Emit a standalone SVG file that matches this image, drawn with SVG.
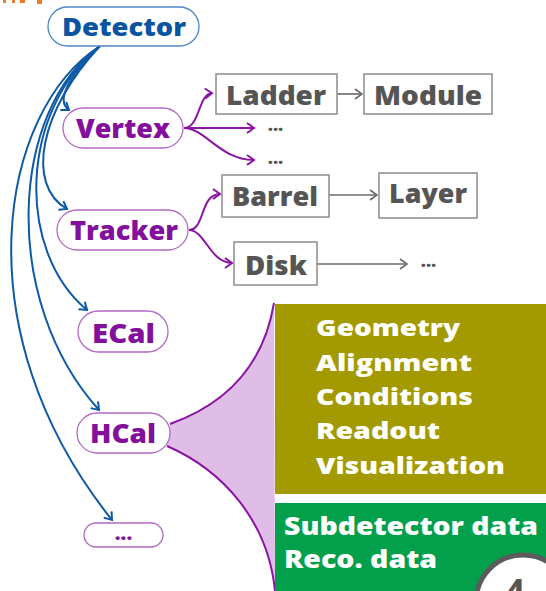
<svg xmlns="http://www.w3.org/2000/svg" width="546" height="591" viewBox="0 0 546 591">
<style>
.t{font-family:"Open Sans","DejaVu Sans",sans-serif;font-weight:800}
.blue{fill:#0b54a2}
.pur{fill:#82109c}
.gry{fill:#555555}
.wht{fill:#ffffff}
.pillB{fill:#ffffff;stroke:#4f86c6;stroke-width:1.3}
.pillP{fill:#ffffff;stroke:#b26ac6;stroke-width:1.3}
.box{fill:#ffffff;stroke:#8c8c8c;stroke-width:1.5}
.cb{fill:none;stroke:#0d59a6;stroke-width:2;marker-end:url(#ab)}
.cp{fill:none;stroke:#8a14a3;stroke-width:2;marker-end:url(#ap)}
.cg{fill:none;stroke:#6a6a6a;stroke-width:1.6;marker-end:url(#ag)}
</style>
<defs>
<marker id="ab" markerUnits="userSpaceOnUse" markerWidth="10" markerHeight="12" refX="7" refY="5" orient="auto" overflow="visible"><path d="M0,0 L7,5 L0,10" fill="none" stroke="#0d59a6" stroke-width="2"/></marker>
<marker id="ap" markerUnits="userSpaceOnUse" markerWidth="10" markerHeight="12" refX="7" refY="5" orient="auto" overflow="visible"><path d="M0,0 L7,5 L0,10" fill="none" stroke="#8a14a3" stroke-width="2"/></marker>
<marker id="ag" markerUnits="userSpaceOnUse" markerWidth="10" markerHeight="12" refX="7" refY="5" orient="auto" overflow="visible"><path d="M0,0 L7,5 L0,10" fill="none" stroke="#6a6a6a" stroke-width="1.6"/></marker>
</defs>
<rect width="546" height="591" fill="#ffffff"/>
<g id="title-fragment" fill="#ee7a2a">
<rect x="3" y="0" width="3" height="3"/><rect x="12" y="0" width="3" height="3"/><rect x="20" y="0" width="5" height="3"/><rect x="37" y="0" width="5" height="4"/>
</g>
<g id="funnel">
<path d="M170,424 C215,408 262,375 274,303 L275,591 C268,520 222,470 167,446 Z" fill="#e0bde6"/>
<path d="M170,424 C215,408 262,375 274,303" fill="none" stroke="#8a14a3" stroke-width="2"/>
<path d="M167,446 C222,470 268,520 275,591" fill="none" stroke="#8a14a3" stroke-width="2"/>
</g>
<g id="info-box">
<rect x="275" y="304" width="271" height="190" fill="#a29a00"/>
<text class="t wht" font-size="23" x="316" y="336" textLength="144" lengthAdjust="spacingAndGlyphs">Geometry</text>
<text class="t wht" font-size="23" x="316" y="371" textLength="156" lengthAdjust="spacingAndGlyphs">Alignment</text>
<text class="t wht" font-size="23" x="316" y="405" textLength="157" lengthAdjust="spacingAndGlyphs">Conditions</text>
<text class="t wht" font-size="23" x="316" y="439" textLength="124" lengthAdjust="spacingAndGlyphs">Readout</text>
<text class="t wht" font-size="23" x="316" y="474" textLength="189" lengthAdjust="spacingAndGlyphs">Visualization</text>
</g>
<g id="data-box">
<rect x="275" y="503" width="271" height="88" fill="#03a04b"/>
<text class="t wht" font-size="24" x="284" y="535" textLength="254" lengthAdjust="spacingAndGlyphs">Subdetector data</text>
<text class="t wht" font-size="24" x="284" y="568" textLength="153" lengthAdjust="spacingAndGlyphs">Reco. data</text>
</g>
<g id="page-number">
<circle cx="523" cy="602" r="47" fill="#ffffff" stroke="#5b5b5b" stroke-width="5"/>
<text class="t gry" font-size="28" x="516" y="599" text-anchor="middle">4</text>
</g>
<g id="connectors">
<path class="cb" d="M100,46 C70,75 55,100 69,110"/>
<path class="cb" d="M100,46 C40,110 25,185 67,209"/>
<path class="cb" d="M100,46 C20,110 15,250 87,310"/>
<path class="cb" d="M100,46 C10,110 0,300 99,410"/>
<path class="cb" d="M100,46 C0,110 -40,330 112,520"/>
<path class="cp" d="M184,128 C200,128 198,94 212,93"/>
<path class="cp" d="M184,128 L254,128"/>
<path class="cp" d="M184,128 C205,128 220,160 254,160"/>
<path class="cp" d="M189,230 C205,230 200,194 220,194"/>
<path class="cp" d="M189,230 C205,230 210,263 232,263"/>
<path class="cg" d="M337,94 L362,94"/>
<path class="cg" d="M329,195 L377,195"/>
<path class="cg" d="M317,264 L407,264"/>
</g>
<g id="detector">
<rect class="pillB" x="48" y="7" width="151" height="39" rx="19.5"/>
<text class="t blue" font-size="24" x="62" y="36" textLength="124" lengthAdjust="spacingAndGlyphs">Detector</text>
</g>
<g id="vertex">
<rect class="pillP" x="63" y="108" width="120" height="40" rx="20"/>
<text class="t pur" font-size="27" x="76" y="138" textLength="94" lengthAdjust="spacingAndGlyphs">Vertex</text>
</g>
<g id="tracker">
<rect class="pillP" x="57" y="210" width="131" height="40" rx="20"/>
<text class="t pur" font-size="27" x="70" y="240" textLength="108" lengthAdjust="spacingAndGlyphs">Tracker</text>
</g>
<g id="ecal">
<rect class="pillP" x="78" y="311" width="90" height="41" rx="20.5"/>
<text class="t pur" font-size="27" x="92" y="343" textLength="63" lengthAdjust="spacingAndGlyphs">ECal</text>
</g>
<g id="hcal">
<rect class="pillP" x="77" y="413" width="93" height="40" rx="20"/>
<text class="t pur" font-size="27" x="90" y="443" textLength="66" lengthAdjust="spacingAndGlyphs">HCal</text>
</g>
<g id="more-subdetectors">
<rect class="pillP" x="84" y="523" width="79" height="24" rx="12"/>
<text class="t pur" font-size="20" x="123.5" y="540" text-anchor="middle">...</text>
</g>
<g id="ladder">
<rect class="box" x="216" y="74" width="121" height="40"/>
<text class="t gry" font-size="27" x="226" y="105" textLength="100" lengthAdjust="spacingAndGlyphs">Ladder</text>
</g>
<g id="module">
<rect class="box" x="364" y="74" width="128" height="40"/>
<text class="t gry" font-size="27" x="374" y="105" textLength="108" lengthAdjust="spacingAndGlyphs">Module</text>
</g>
<g id="vertex-more-1"><text class="t gry" font-size="18" x="275.5" y="131" text-anchor="middle">...</text></g>
<g id="vertex-more-2"><text class="t gry" font-size="18" x="275.5" y="164" text-anchor="middle">...</text></g>
<g id="barrel">
<rect class="box" x="222" y="175" width="107" height="42"/>
<text class="t gry" font-size="27" x="232" y="206" textLength="86" lengthAdjust="spacingAndGlyphs">Barrel</text>
</g>
<g id="layer">
<rect class="box" x="379" y="173" width="98" height="45"/>
<text class="t gry" font-size="27" x="389" y="203" textLength="78" lengthAdjust="spacingAndGlyphs">Layer</text>
</g>
<g id="disk">
<rect class="box" x="234" y="242" width="83" height="43"/>
<text class="t gry" font-size="27" x="245" y="275" textLength="62" lengthAdjust="spacingAndGlyphs">Disk</text>
</g>
<g id="disk-more"><text class="t gry" font-size="18" x="428.5" y="267" text-anchor="middle">...</text></g>
</svg>
